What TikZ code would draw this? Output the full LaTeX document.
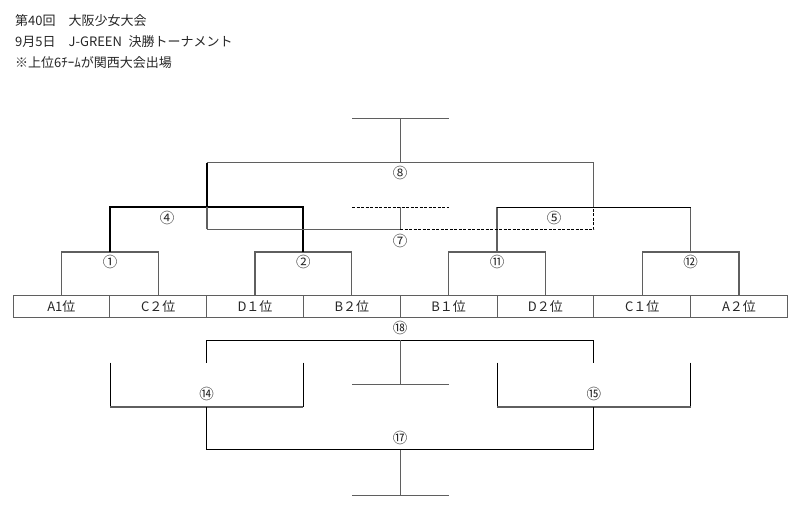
\documentclass[tikz,border=0pt]{standalone}
\usepackage{fontspec}
\setmainfont{Noto Sans CJK JP}
\usepackage{xcolor}
\usepackage{tikz}
\usetikzlibrary{positioning}
\definecolor{linegray}{HTML}{5F5F5F}
\definecolor{inkdark}{HTML}{262626}

\begin{document}
\begin{tikzpicture}[x=1pt, y=-1pt,
  teambox/.style={rectangle, draw=linegray, line width=1pt, minimum width=96.8pt,
                  minimum height=22pt, inner sep=0pt, outer sep=0pt,
                  font=\fontsize{13}{15}\selectfont, text=inkdark},
  mnum/.style={font=\fontsize{14.5}{16}\selectfont, text=inkdark, inner sep=0pt},
  gline/.style={linegray, line width=1.1pt},
  kline/.style={black, line width=0.9pt},
  wline/.style={black, line width=2pt},
  dline/.style={black, line width=0.9pt, dash pattern=on 3pt off 1.5pt}
]
\useasboundingbox (0,0) rectangle (811,518);

%--- Title ---
\node[anchor=west, align=left, inner sep=0pt, text=inkdark,
      font=\fontsize{13}{21.3}\selectfont] (title) at (15,41.5)
  {第40回　大阪少女大会\\9月5日　J-GREEN\enspace 決勝トーナメント\\※上位6ﾁｰﾑが関西大会出場};

%--- Teams ---
\node[teambox] (A1) at (61.4,307)  {A1位};
\node[teambox] (C2) at (158.2,307) {C２位};
\node[teambox] (D1) at (255,307)   {D１位};
\node[teambox] (B2) at (351.8,307) {B２位};
\node[teambox] (B1) at (448.6,307) {B１位};
\node[teambox] (D2) at (545.4,307) {D２位};
\node[teambox] (C1) at (642.2,307) {C１位};
\node[teambox] (A2) at (739,307)   {A２位};

%--- Bracket points ---
\coordinate (m1)  at (110,252);
\coordinate (m2)  at (303.4,252);
\coordinate (m11) at (497,252);
\coordinate (m12) at (690.6,252);
\coordinate (m4)  at (206.6,207.5);
\coordinate (m5)  at (593.8,207.5);
\coordinate (m5l) at (497,207.5);
\coordinate (m5r) at (690.6,207.5);
\coordinate (m8l) at (206.6,162.7);
\coordinate (m8)  at (400.2,162.7);
\coordinate (m8r) at (593.8,162.7);
\coordinate (top)  at (400.2,118.3);
\coordinate (topl) at (352,118.3);
\coordinate (topr) at (448.6,118.3);
\coordinate (m7l) at (206.6,229.5);
\coordinate (m7)  at (400.2,229.5);
\coordinate (m7r) at (593.8,229.5);
\coordinate (m7t)  at (400.2,207.5);
\coordinate (m7tl) at (352,207.5);
\coordinate (m7tr) at (448.6,207.5);

%--- Round 1 ---
\draw[gline] (A1.north) |- (m1) -| (C2.north);
\draw[gline] (D1.north) |- (m2) -| (B2.north);
\draw[gline] (B1.north) |- (m11) -| (D2.north);
\draw[gline] (C1.north) |- (m12) -| (A2.north);
\node[mnum] (n1)  at (110,262.3)   {①};
\node[mnum] (n2)  at (303.4,262.3) {②};
\node[mnum] (n11) at (497,262.3)   {⑪};
\node[mnum] (n12) at (690.6,262.3) {⑫};

%--- Round 2 ---
\draw[wline] (m1) |- (m4) -| (m2);
\draw[wline] (m4) -- (m8l);
\draw[gline] (m11) -- (m5l);
\draw[gline] (m12) -- (m5r);
\draw[kline] (m5l) -- (m5r);
\node[mnum] (n4) at (167,218.3) {④};
\node[mnum] (n5) at (554,218.3) {⑤};

%--- Match 8 ---
\draw[gline] (m8l) -- (m8r) -- (m5);
\draw[gline] (m8) -- (top);
\draw[gline] (topl) -- (topr);
\node[mnum] (n8) at (400.2,172.7) {⑧};

%--- Match 7 ---
\draw[gline, line width=2pt] (m4) -- (m7l);
\draw[gline] (m7l) -- (m7);
\draw[dline] (m7) -- (m7r) -- (m5);
\draw[gline] (m7) -- (m7t);
\draw[dline] (m7tl) -- (m7tr);
\node[mnum] (n7) at (400.2,240.7) {⑦};

%--- Lower bracket points ---
\coordinate (m18lt) at (206.6,362.7);
\coordinate (m18)   at (400.2,340.5);
\coordinate (m18rt) at (593.8,362.7);
\coordinate (m18b)  at (400.2,384.3);
\coordinate (m18bl) at (352,384.3);
\coordinate (m18br) at (448.6,384.3);
\coordinate (m14lt) at (110,362.7);
\coordinate (m14rt) at (303.4,362.7);
\coordinate (m14l)  at (110,406.7);
\coordinate (m14)   at (206.6,406.7);
\coordinate (m14r)  at (303.4,406.7);
\coordinate (m15lt) at (497,362.7);
\coordinate (m15rt) at (690.6,362.7);
\coordinate (m15l)  at (497,406.7);
\coordinate (m15)   at (593.8,406.7);
\coordinate (m15r)  at (690.6,406.7);
\coordinate (m17)   at (400.2,449.8);
\coordinate (m17b)  at (400.2,495.3);
\coordinate (m17bl) at (352,495.3);
\coordinate (m17br) at (448.6,495.3);

%--- Match 18 ---
\draw[kline] (m18lt) |- (m18) -| (m18rt);
\draw[gline] (m18) -- (m18b);
\draw[gline] (m18bl) -- (m18br);
\node[mnum] (n18) at (400.2,328.3) {⑱};

%--- Matches 14, 15 ---
\draw[kline] (m14lt) -- (m14l);
\draw[kline] (m14rt) -- (m14r);
\draw[gline, line width=1.6pt] (m14l) -- (m14r);
\draw[kline] (m15lt) -- (m15l);
\draw[kline] (m15rt) -- (m15r);
\draw[gline, line width=1.6pt] (m15l) -- (m15r);
\node[mnum] (n14) at (206.6,393.5) {⑭};
\node[mnum] (n15) at (593.8,393.5) {⑮};

%--- Match 17 ---
\draw[kline] (m14) |- (m17) -| (m15);
\draw[gline] (m17) -- (m17b);
\draw[gline] (m17bl) -- (m17br);
\node[mnum] (n17) at (400.2,438.3) {⑰};

\end{tikzpicture}
\end{document}
